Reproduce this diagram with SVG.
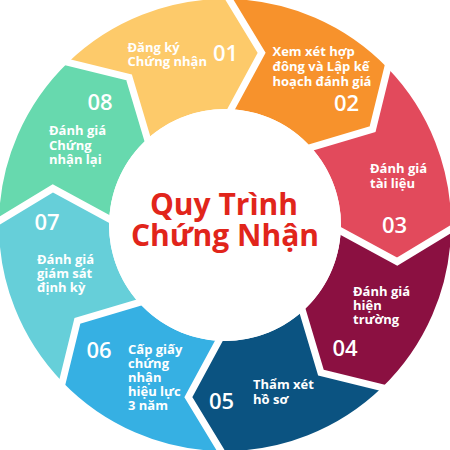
<svg xmlns="http://www.w3.org/2000/svg" width="450" height="450" viewBox="0 0 450 450">
<style>
.lbl{font-family:"Open Sans","Liberation Sans",sans-serif;font-weight:700;font-size:13px;fill:#ffffff}
.num{font-family:"Open Sans","Liberation Sans",sans-serif;font-weight:600;font-size:22px;fill:#ffffff}
.title{font-family:"Open Sans","Liberation Sans",sans-serif;font-weight:700;font-size:30px;fill:#E1251B;text-anchor:middle}
.sep{fill:none;stroke:#ffffff;stroke-width:7;stroke-linejoin:miter;stroke-miterlimit:10}
</style>
<rect width="450" height="450" fill="#ffffff"/>
<g id="step01">
<path fill="#FDCA6A" d="M68.0,62.4 A226 226 0 0 1 228.9,-1.0 L261.6,52.8 L231.1,109.2 A116 116 0 0 0 147.4,138.8 L129.1,77.4 Z"/>
<text class="lbl"><tspan x="127.5" y="51.5">Đăng ký</tspan><tspan x="127.5" y="65.5">Chứng nhận</tspan></text>
<text class="num" x="213" y="61">01</text>
</g>
<g id="step02">
<path fill="#F7922C" d="M228.9,-1.0 A226 226 0 0 1 387.6,68.0 L372.6,129.1 L311.2,147.4 A116 116 0 0 0 231.1,109.2 L261.6,52.8 Z"/>
<text class="lbl"><tspan x="272.5" y="55.5">Xem xét hợp</tspan><tspan x="272.5" y="70.5">đông và Lập kế</tspan><tspan x="272.5" y="85.5">hoạch đánh giá</tspan></text>
<text class="num" x="334" y="111">02</text>
</g>
<g id="step03">
<path fill="#E24A5C" d="M387.6,68.0 A226 226 0 0 1 451.0,228.9 L397.2,261.6 L340.8,231.1 A116 116 0 0 0 311.2,147.4 L372.6,129.1 Z"/>
<text class="lbl"><tspan x="370" y="173">Đánh giá</tspan><tspan x="370" y="188">tài liệu</tspan></text>
<text class="num" x="382" y="233">03</text>
</g>
<g id="step04">
<path fill="#8B1041" d="M451.0,228.9 A226 226 0 0 1 382.0,387.6 L320.9,372.6 L302.6,311.2 A116 116 0 0 0 340.8,231.1 L397.2,261.6 Z"/>
<text class="lbl"><tspan x="353" y="296">Đánh giá</tspan><tspan x="353" y="310">hiện</tspan><tspan x="353" y="324">trường</tspan></text>
<text class="num" x="332.5" y="355.5">04</text>
</g>
<g id="step05">
<path fill="#0B5381" d="M382.0,387.6 A226 226 0 0 1 221.1,451.0 L188.4,397.2 L218.9,340.8 A116 116 0 0 0 302.6,311.2 L320.9,372.6 Z"/>
<text class="lbl"><tspan x="253" y="389">Thẩm xét</tspan><tspan x="253" y="403.5">hồ sơ</tspan></text>
<text class="num" x="209" y="408.5">05</text>
</g>
<g id="step06">
<path fill="#36B0E3" d="M221.1,451.0 A226 226 0 0 1 62.4,382.0 L77.4,320.9 L138.8,302.6 A116 116 0 0 0 218.9,340.8 L188.4,397.2 Z"/>
<text class="lbl"><tspan x="128" y="353.5">Cấp giấy</tspan><tspan x="128" y="367.5">chứng</tspan><tspan x="128" y="381.5">nhận</tspan><tspan x="128" y="395.5">hiệu lực</tspan><tspan x="128" y="410">3 năm</tspan></text>
<text class="num" x="86.5" y="358">06</text>
</g>
<g id="step07">
<path fill="#66CFD9" d="M62.4,382.0 A226 226 0 0 1 -1.0,221.1 L52.8,188.4 L109.2,218.9 A116 116 0 0 0 138.8,302.6 L77.4,320.9 Z"/>
<text class="lbl"><tspan x="37" y="263.5">Đánh giá</tspan><tspan x="37" y="277.5">giám sát</tspan><tspan x="37" y="291.5">định kỳ</tspan></text>
<text class="num" x="34.5" y="229.5">07</text>
</g>
<g id="step08">
<path fill="#67D9AE" d="M-1.0,221.1 A226 226 0 0 1 68.0,62.4 L129.1,77.4 L147.4,138.8 A116 116 0 0 0 109.2,218.9 L52.8,188.4 Z"/>
<text class="lbl"><tspan x="49" y="135">Đánh giá</tspan><tspan x="49" y="150">Chứng</tspan><tspan x="49" y="164">nhận lại</tspan></text>
<text class="num" x="87.5" y="110">08</text>
</g>
<g id="connectors">
<polyline class="sep" points="152.9,157.2 129.1,77.4 55.8,59.4"/>
<polyline class="sep" points="221.95,126.1 261.6,52.8 222.4,-11.8"/>
<polyline class="sep" points="292.8,152.9 372.6,129.1 390.6,55.8"/>
<polyline class="sep" points="323.9,221.95 397.2,261.6 461.8,222.4"/>
<polyline class="sep" points="297.1,292.8 320.9,372.6 394.2,390.6"/>
<polyline class="sep" points="228.05,323.9 188.4,397.2 227.6,461.8"/>
<polyline class="sep" points="157.2,297.1 77.4,320.9 59.4,394.2"/>
<polyline class="sep" points="126.1,228.05 52.8,188.4 -11.8,227.6"/>
</g>
<g id="center">
<circle cx="225" cy="225" r="116" fill="#ffffff"/>
<text class="title" x="224" y="215">Quy Trình</text>
<text class="title" x="225" y="246">Chứng Nhận</text>
</g>
</svg>
